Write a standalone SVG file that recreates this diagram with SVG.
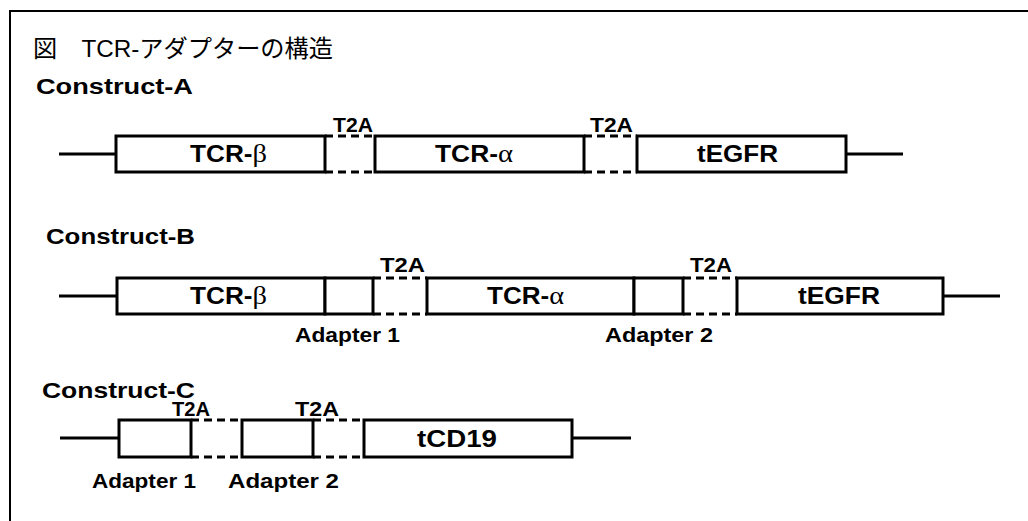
<svg xmlns="http://www.w3.org/2000/svg" width="1028" height="521" viewBox="0 0 1028 521">
<style>
.box{fill:#fff;stroke:#000;stroke-width:3}
.t2a{fill:none;stroke:#000;stroke-width:3;stroke-dasharray:8 5}
.ln{stroke:#000;stroke-width:3;fill:none}
.b{font-family:"Liberation Sans",Arial,sans-serif;font-weight:bold;fill:#000}
.g{font-family:"Liberation Serif","Times New Roman",serif;font-weight:normal;font-size:25px}
.h{font-size:22px}
.lbl{font-size:23px}
.sm{font-size:21px}
.tt{font-size:21px}
</style>
<rect x="10" y="11" width="1040" height="540" fill="#fff" stroke="#000" stroke-width="2"/>
<text x="33" y="57" font-family="'Liberation Sans','Noto Sans CJK JP',sans-serif" font-size="24" textLength="300" lengthAdjust="spacingAndGlyphs">図　TCR-アダプターの構造</text>

<g id="connectors">
<line class="ln" x1="59" y1="154" x2="116" y2="154"/>
<line class="ln" x1="846" y1="154" x2="903" y2="154"/>
<line class="ln" x1="59" y1="296" x2="117" y2="296"/>
<line class="ln" x1="943" y1="296" x2="1000" y2="296"/>
<line class="ln" x1="60" y1="438" x2="119" y2="438"/>
<line class="ln" x1="572" y1="438" x2="631" y2="438"/>
</g>

<g id="construct-a">
<text class="b h" x="36" y="94" textLength="157" lengthAdjust="spacingAndGlyphs">Construct-A</text>
<g id="a-tcrb"><rect class="box" x="116" y="136" width="209" height="36"/>
<text class="b lbl" x="190" y="162" textLength="77" lengthAdjust="spacingAndGlyphs">TCR-<tspan class="g">β</tspan></text></g>
<g id="a-t2a1"><path class="t2a" d="M325 136H375M325 172H375"/>
<text class="b tt" x="333" y="132" textLength="40" lengthAdjust="spacingAndGlyphs">T2A</text></g>
<g id="a-tcra"><rect class="box" x="375" y="136" width="209" height="36"/>
<text class="b lbl" x="435" y="162" textLength="78" lengthAdjust="spacingAndGlyphs">TCR-<tspan class="g">α</tspan></text></g>
<g id="a-t2a2"><path class="t2a" d="M584 136H637M584 172H637"/>
<text class="b tt" x="590" y="132" textLength="43" lengthAdjust="spacingAndGlyphs">T2A</text></g>
<g id="a-tegfr"><rect class="box" x="637" y="136" width="209" height="36"/>
<text class="b lbl" x="697" y="162" textLength="81" lengthAdjust="spacingAndGlyphs">tEGFR</text></g>
</g>

<g id="construct-b">
<text class="b h" x="46" y="244" textLength="149" lengthAdjust="spacingAndGlyphs">Construct-B</text>
<g id="b-tcrb"><rect class="box" x="117" y="278" width="208" height="36"/>
<text class="b lbl" x="190" y="304" textLength="77" lengthAdjust="spacingAndGlyphs">TCR-<tspan class="g">β</tspan></text></g>
<g id="b-adapter1"><rect class="box" x="325" y="278" width="48" height="36"/>
<text class="b sm" x="295" y="342" textLength="105" lengthAdjust="spacingAndGlyphs">Adapter 1</text></g>
<g id="b-t2a1"><path class="t2a" d="M373 278H427M373 314H427"/>
<text class="b tt" x="380" y="272" textLength="45" lengthAdjust="spacingAndGlyphs">T2A</text></g>
<g id="b-tcra"><rect class="box" x="427" y="278" width="207" height="36"/>
<text class="b lbl" x="487" y="304" textLength="77" lengthAdjust="spacingAndGlyphs">TCR-<tspan class="g">α</tspan></text></g>
<g id="b-adapter2"><rect class="box" x="634" y="278" width="49" height="36"/>
<text class="b sm" x="605" y="342" textLength="108" lengthAdjust="spacingAndGlyphs">Adapter 2</text></g>
<g id="b-t2a2"><path class="t2a" d="M683 278H737M683 314H737"/>
<text class="b tt" x="690" y="272" textLength="42" lengthAdjust="spacingAndGlyphs">T2A</text></g>
<g id="b-tegfr"><rect class="box" x="737" y="278" width="206" height="36"/>
<text class="b lbl" x="798" y="304" textLength="82" lengthAdjust="spacingAndGlyphs">tEGFR</text></g>
</g>

<g id="construct-c">
<text class="b h" x="42" y="398" textLength="153" lengthAdjust="spacingAndGlyphs">Construct-C</text>
<g id="c-adapter1"><rect class="box" x="119" y="420" width="72" height="37"/>
<text class="b sm" x="92" y="488" textLength="104" lengthAdjust="spacingAndGlyphs">Adapter 1</text></g>
<g id="c-t2a1"><path class="t2a" d="M191 420H242M191 457H242"/>
<text class="b" font-size="20" x="172" y="416" textLength="38" lengthAdjust="spacingAndGlyphs">T2A</text></g>
<g id="c-adapter2"><rect class="box" x="242" y="420" width="71" height="37"/>
<text class="b sm" x="228" y="488" textLength="111" lengthAdjust="spacingAndGlyphs">Adapter 2</text></g>
<g id="c-t2a2"><path class="t2a" d="M313 420H364M313 457H364"/>
<text class="b" font-size="20" x="295" y="416" textLength="44" lengthAdjust="spacingAndGlyphs">T2A</text></g>
<g id="c-tcd19"><rect class="box" x="364" y="420" width="208" height="37"/>
<text class="b lbl" x="417" y="447" textLength="80" lengthAdjust="spacingAndGlyphs">tCD19</text></g>
</g>
</svg>
